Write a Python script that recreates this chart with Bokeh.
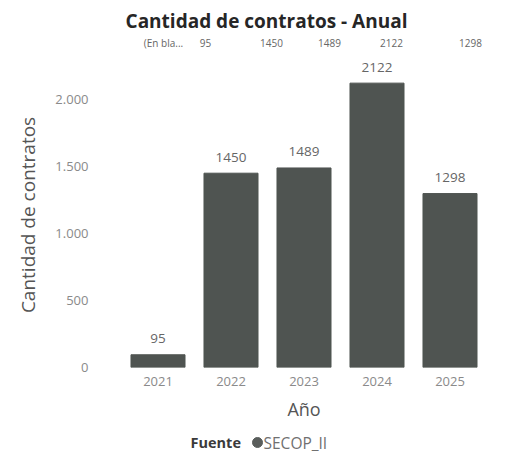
from bokeh.plotting import figure
from bokeh.layouts import column
from bokeh.models import ColumnDataSource, CustomJSTickFormatter, FactorRange, Range1d
from bokeh.core.properties import value
from bokeh.embed import file_html
from bokeh.resources import INLINE

years = ["2021", "2022", "2023", "2024", "2025"]
counts = [95, 1450, 1489, 2122, 1298]
top_row_labels = ["(En bla...", "95", "1450", "1489", "2122", "1298"]
y_ticks = [0, 500, 1000, 1500, 2000]
legend_title = "Fuente"
legend_series = "SECOP_II"

FONT = "Open Sans"
BAR = "#4f5451"
W = 510
LEFT, RIGHT = 121, 24          # frame borders shared by all three panels
X0, X1 = LEFT, W - RIGHT       # pixel coordinates of the frame

def bare(fig):
    fig.axis.visible = False
    fig.grid.visible = False
    fig.outline_line_color = None
    fig.min_border_left = LEFT
    fig.min_border_right = RIGHT
    fig.min_border_top = 0
    fig.min_border_bottom = 0
    return fig

# ---- header: title + top row
top_x = [163, 205, 271, 329, 391, 470]  # layout positions (px)
hdr = bare(figure(width=W, height=58, x_range=Range1d(X0, X1), y_range=Range1d(0, 58),
                  output_backend="svg", toolbar_location=None))
hdr.text(x=[266], y=[38], text=["Cantidad de contratos - Anual"], text_align="center",
         text_baseline="middle", text_font=value(FONT), text_font_size="19px",
         text_font_style="bold", text_color="#262626")
hdr.text(x=top_x, y=[16] * len(top_x), text=top_row_labels, text_align="center",
         text_baseline="middle", text_font=value(FONT), text_font_size="10px",
         text_color="#666666")

# ---- main chart
src = ColumnDataSource(dict(year=years, count=counts, label=[str(c) for c in counts]))
p = figure(x_range=FactorRange(*years, range_padding=0), y_range=Range1d(0, 2276),
           width=W, height=367, output_backend="svg", toolbar_location=None,
           min_border_left=LEFT, min_border_right=RIGHT, min_border_top=4, min_border_bottom=58)
p.outline_line_color = None
p.xgrid.grid_line_color = None
p.ygrid.grid_line_color = None

p.vbar(x="year", top="count", width=0.74, source=src, color=BAR)
p.text(x="year", y="count", text="label", source=src, text_align="center",
       text_baseline="middle", y_offset=-16, text_font_size="13.5px", text_color="#666666",
       text_font=value(FONT))

p.yaxis.ticker = y_ticks
p.yaxis.formatter = CustomJSTickFormatter(
    code="return tick.toString().replace(/\\B(?=(\\d{3})+(?!\\d))/g, '.');")
for ax in (p.xaxis, p.yaxis):
    ax.axis_line_color = None
    ax.major_tick_line_color = None
    ax.minor_tick_line_color = None
    ax.major_label_text_font = FONT
    ax.major_label_text_font_size = "13px"
    ax.major_label_text_color = "#8a8a8a"
    ax.axis_label_text_font = FONT
    ax.axis_label_text_font_style = "normal"
    ax.axis_label_text_color = "#555555"
p.yaxis.axis_label = "Cantidad de contratos"
p.yaxis.axis_label_text_font_size = "19px"
p.yaxis.major_label_standoff = 27
p.yaxis.axis_label_standoff = 11
p.xaxis.axis_label = "Año"
p.xaxis.axis_label_text_font_size = "18px"
p.xaxis.major_label_standoff = 3
p.xaxis.axis_label_standoff = 8

# ---- legend
leg = bare(figure(width=W, height=33, x_range=Range1d(X0, X1), y_range=Range1d(0, 33),
                  output_backend="svg", toolbar_location=None))
leg.text(x=[190], y=[16], text=[legend_title], text_align="left", text_baseline="middle",
         text_font=value(FONT), text_font_size="14.5px", text_font_style="bold",
         text_color="#3a3a3a")
leg.scatter(x=[257], y=[16], size=10, marker="circle", color="#5a5e5c")
leg.text(x=[263], y=[16], text=[legend_series], text_align="left", text_baseline="middle",
         text_font=value(FONT), text_font_size="15.5px", text_color="#707070")

layout = column(hdr, p, leg, spacing=0)
open("out.html", "w").write(file_html(layout, INLINE))
